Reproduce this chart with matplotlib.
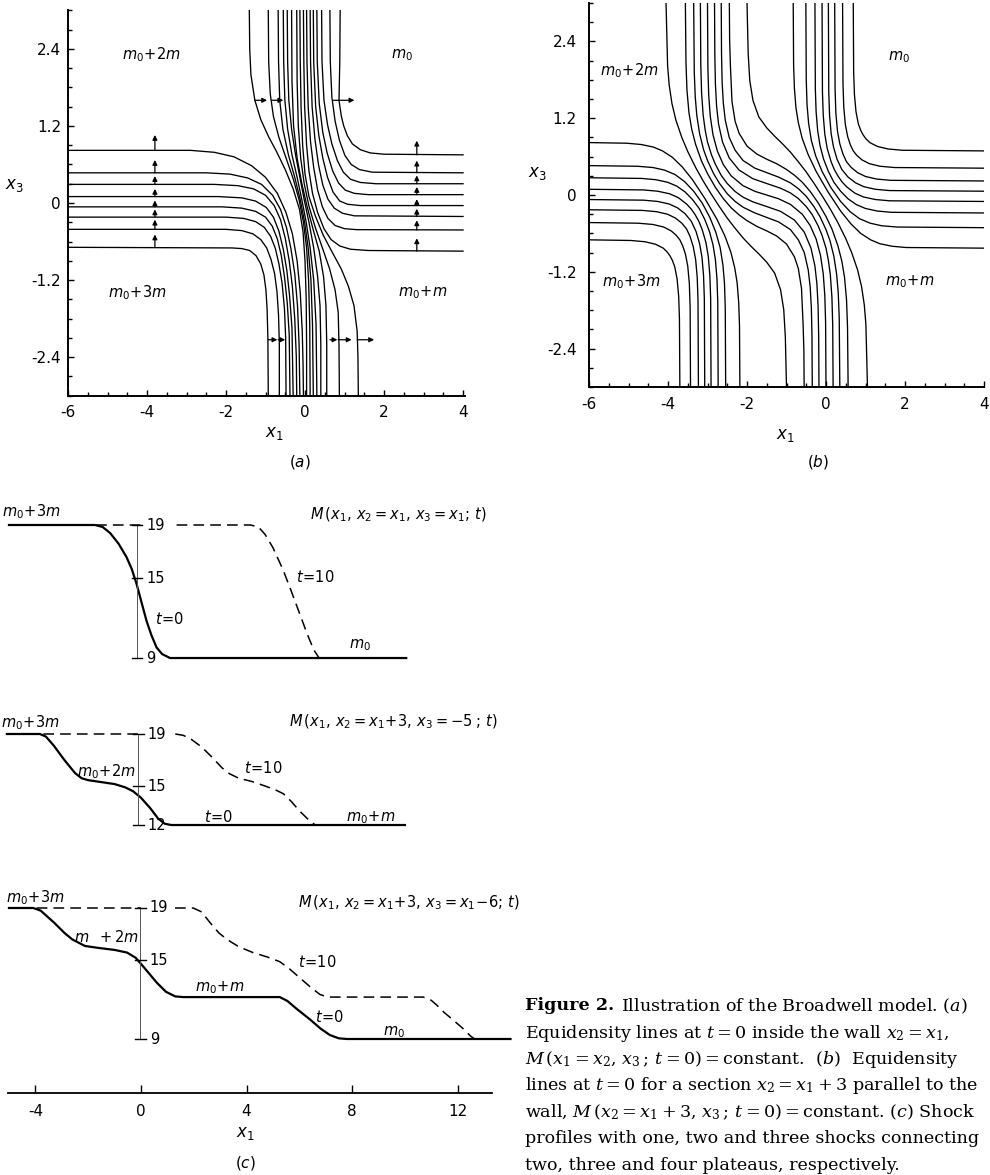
import matplotlib
matplotlib.use("Agg")
import matplotlib.pyplot as plt
from matplotlib.ticker import MultipleLocator

plt.rcParams["font.family"] = ["DejaVu Sans"]
plt.rcParams["axes.unicode_minus"] = False
plt.rcParams["mathtext.fontset"] = "dejavusans"

# ---------------- panel (a): equidensity lines inside the wall ----------------
# lines coming down from the top edge and turning to the right edge
a_upper_right = [
    [(0.89, 3.0), (0.88, 2.2), (0.86, 1.6), (0.92, 1.35), (0.98, 1.20), (1.07, 1.05), (1.20, 0.92), (1.40, 0.83), (1.65, 0.78), (2.0, 0.76), (4.0, 0.75)],
    [(0.63, 3.0), (0.64, 2.2), (0.68, 1.65), (0.76, 1.28), (0.87, 0.98), (1.01, 0.74), (1.17, 0.60), (1.38, 0.52), (1.7, 0.48), (4.0, 0.47)],
    [(0.42, 3.0), (0.43, 2.2), (0.48, 1.6), (0.57, 1.22), (0.68, 0.92), (0.82, 0.66), (0.97, 0.48), (1.15, 0.37), (1.4, 0.32), (1.8, 0.30), (4.0, 0.30)],
    [(0.30, 3.0), (0.31, 2.2), (0.36, 1.55), (0.45, 1.10), (0.56, 0.78), (0.70, 0.50), (0.85, 0.31), (1.02, 0.20), (1.25, 0.15), (1.6, 0.13), (4.0, 0.13)],
    [(0.21, 3.0), (0.22, 2.2), (0.27, 1.5), (0.35, 1.05), (0.45, 0.70), (0.57, 0.40), (0.71, 0.17), (0.88, 0.03), (1.08, -0.02), (1.4, -0.04), (4.0, -0.04)],
    [(0.13, 3.0), (0.14, 2.2), (0.18, 1.5), (0.25, 1.0), (0.34, 0.60), (0.45, 0.28), (0.58, 0.06), (0.74, -0.08), (0.95, -0.16), (1.25, -0.20), (4.0, -0.21)],
    [(0.04, 3.0), (0.05, 2.2), (0.08, 1.5), (0.14, 0.95), (0.22, 0.55), (0.32, 0.20), (0.44, -0.06), (0.58, -0.24), (0.76, -0.35), (1.0, -0.40), (1.3, -0.415), (4.0, -0.42)],
    [(-0.04, 3.0), (-0.03, 2.2), (-0.01, 1.5), (0.04, 0.9), (0.10, 0.50), (0.19, 0.15), (0.32, -0.15), (0.48, -0.40), (0.66, -0.57), (0.88, -0.67), (1.15, -0.72), (1.6, -0.74), (4.0, -0.75)],
]
# lines coming in from the left edge and turning down to the bottom edge
a_lower_left = [
    [(-6.0, -0.69), (-1.85, -0.70), (-1.6, -0.71), (-1.40, -0.74), (-1.24, -0.82), (-1.12, -0.95), (-1.04, -1.12), (-0.99, -1.35), (-0.96, -1.65), (-0.94, -2.1), (-0.93, -3.0)],
    [(-6.0, -0.41), (-2.0, -0.41), (-1.6, -0.43), (-1.32, -0.48), (-1.12, -0.57), (-0.97, -0.70), (-0.86, -0.88), (-0.77, -1.10), (-0.71, -1.38), (-0.67, -1.75), (-0.65, -2.2), (-0.65, -3.0)],
    [(-6.0, -0.22), (-2.0, -0.22), (-1.55, -0.24), (-1.25, -0.29), (-1.03, -0.38), (-0.87, -0.52), (-0.75, -0.71), (-0.66, -0.95), (-0.58, -1.25), (-0.52, -1.65), (-0.49, -2.1), (-0.48, -3.0)],
    [(-6.0, -0.06), (-2.1, -0.06), (-1.6, -0.08), (-1.25, -0.13), (-1.0, -0.22), (-0.83, -0.36), (-0.70, -0.56), (-0.60, -0.82), (-0.52, -1.15), (-0.45, -1.55), (-0.40, -2.05), (-0.38, -3.0)],
    [(-6.0, 0.10), (-2.2, 0.10), (-1.6, 0.08), (-1.25, 0.03), (-0.98, -0.07), (-0.80, -0.22), (-0.66, -0.44), (-0.55, -0.72), (-0.46, -1.05), (-0.39, -1.45), (-0.33, -1.95), (-0.30, -3.0)],
    [(-6.0, 0.29), (-2.3, 0.29), (-1.7, 0.27), (-1.3, 0.22), (-1.0, 0.12), (-0.78, -0.04), (-0.62, -0.26), (-0.50, -0.55), (-0.40, -0.90), (-0.32, -1.3), (-0.26, -1.8), (-0.22, -2.4), (-0.21, -3.0)],
    [(-6.0, 0.47), (-2.5, 0.47), (-1.9, 0.45), (-1.45, 0.39), (-1.1, 0.29), (-0.82, 0.12), (-0.62, -0.10), (-0.47, -0.38), (-0.36, -0.70), (-0.26, -1.1), (-0.19, -1.6), (-0.15, -2.2), (-0.13, -3.0)],
    [(-6.0, 0.82), (-2.9, 0.82), (-2.3, 0.79), (-1.8, 0.72), (-1.35, 0.58), (-1.0, 0.40), (-0.70, 0.15), (-0.48, -0.15), (-0.32, -0.48), (-0.20, -0.90), (-0.12, -1.4), (-0.07, -2.0), (-0.05, -2.5), (-0.04, -3.0)],
]
# lines running from the top edge to the bottom edge through the crossing
a_through = [
    [(-1.41, 3.0), (-1.40, 2.4), (-1.37, 2.0), (-1.27, 1.60), (-1.12, 1.30), (-0.92, 1.03), (-0.72, 0.80), (-0.50, 0.52), (-0.30, 0.22), (-0.14, -0.10), (-0.05, -0.45), (0.0, -0.9), (0.03, -1.5), (0.04, -2.2), (0.04, -3.0)],
    [(-0.93, 3.0), (-0.92, 2.2), (-0.88, 1.7), (-0.80, 1.35), (-0.66, 1.02), (-0.48, 0.70), (-0.30, 0.38), (-0.15, 0.05), (-0.04, -0.30), (0.04, -0.70), (0.09, -1.2), (0.12, -1.9), (0.13, -3.0)],
    [(-0.68, 3.0), (-0.67, 2.2), (-0.64, 1.6), (-0.56, 1.15), (-0.42, 0.75), (-0.26, 0.40), (-0.12, 0.05), (-0.01, -0.30), (0.08, -0.70), (0.15, -1.2), (0.19, -1.9), (0.21, -3.0)],
    [(-0.55, 3.0), (-0.54, 2.2), (-0.51, 1.6), (-0.44, 1.15), (-0.33, 0.75), (-0.20, 0.40), (-0.08, 0.05), (0.03, -0.30), (0.13, -0.70), (0.22, -1.2), (0.28, -1.9), (0.30, -3.0)],
    [(-0.45, 3.0), (-0.44, 2.2), (-0.41, 1.6), (-0.34, 1.15), (-0.24, 0.75), (-0.13, 0.40), (-0.02, 0.05), (0.10, -0.30), (0.22, -0.70), (0.32, -1.15), (0.38, -1.6), (0.40, -2.2), (0.40, -3.0)],
    [(-0.34, 3.0), (-0.33, 1.9), (-0.29, 1.2), (-0.20, 0.70), (-0.08, 0.30), (0.05, -0.05), (0.20, -0.40), (0.36, -0.75), (0.47, -1.15), (0.53, -1.6), (0.55, -2.2), (0.55, -3.0)],
    [(-0.21, 3.0), (-0.20, 1.9), (-0.17, 1.2), (-0.11, 0.70), (-0.02, 0.30), (0.10, -0.05), (0.26, -0.38), (0.44, -0.70), (0.62, -1.02), (0.76, -1.35), (0.84, -1.7), (0.86, -2.2), (0.87, -3.0)],
    [(-0.13, 3.0), (-0.12, 2.2), (-0.10, 1.5), (-0.06, 0.9), (0.0, 0.45), (0.10, 0.10), (0.26, -0.20), (0.46, -0.50), (0.70, -0.78), (0.92, -1.03), (1.10, -1.30), (1.24, -1.60), (1.32, -2.0), (1.34, -2.4), (1.35, -3.0)],
]
# shock-motion arrows in (a): (x_start, y_start, x_end, y_end)
a_arrows = [
    (-3.80, 0.82, -3.80, 1.06), (-3.80, 0.47, -3.80, 0.67), (-3.80, 0.29, -3.80, 0.42), (-3.80, 0.10, -3.80, 0.22),
    (-3.80, -0.06, -3.80, 0.04), (-3.80, -0.22, -3.80, -0.10), (-3.80, -0.41, -3.80, -0.26), (-3.80, -0.69, -3.80, -0.49),
    (2.83, 0.75, 2.83, 0.97), (2.83, 0.47, 2.83, 0.66), (2.83, 0.30, 2.83, 0.43), (2.83, 0.13, 2.83, 0.25),
    (2.83, -0.04, 2.83, 0.06), (2.83, -0.21, 2.83, -0.09), (2.83, -0.42, 2.83, -0.27), (2.83, -0.75, 2.83, -0.55),
    (-1.27, 1.6, -0.96, 1.6), (-0.84, 1.6, -0.55, 1.6), (0.72, 1.6, 1.25, 1.6),
    (-0.93, -2.13, -0.70, -2.13), (-0.68, -2.13, -0.50, -2.13), (0.63, -2.13, 0.82, -2.13),
    (0.84, -2.13, 1.18, -2.13), (1.32, -2.13, 1.75, -2.13),
]

# ---------------- panel (b): section x2 = x1 + 3 ----------------
b_upper_right = [
    [(0.69, 3.0), (0.70, 1.93), (0.72, 1.57), (0.76, 1.30), (0.82, 1.11), (0.88, 1.01), (0.94, 0.94), (1.01, 0.88), (1.11, 0.82), (1.30, 0.76), (1.57, 0.72), (1.93, 0.70), (4.0, 0.69)],
    [(0.42, 3.0), (0.43, 1.74), (0.45, 1.37), (0.49, 1.10), (0.55, 0.91), (0.62, 0.78), (0.69, 0.69), (0.78, 0.62), (0.91, 0.55), (1.10, 0.49), (1.37, 0.45), (1.74, 0.43), (4.0, 0.42)],
    [(0.22, 3.0), (0.23, 1.64), (0.25, 1.28), (0.29, 1.00), (0.35, 0.80), (0.43, 0.64), (0.52, 0.52), (0.64, 0.43), (0.80, 0.35), (1.00, 0.29), (1.28, 0.25), (1.64, 0.23), (4.0, 0.22)],
    [(0.06, 3.0), (0.07, 1.61), (0.09, 1.25), (0.13, 0.96), (0.19, 0.75), (0.28, 0.56), (0.40, 0.40), (0.56, 0.28), (0.75, 0.19), (0.96, 0.13), (1.25, 0.09), (1.61, 0.07), (4.0, 0.06)],
    [(-0.10, 3.0), (-0.09, 1.61), (-0.07, 1.25), (-0.03, 0.95), (0.03, 0.73), (0.13, 0.52), (0.21, 0.40), (0.30, 0.30), (0.40, 0.21), (0.52, 0.13), (0.73, 0.03), (0.95, -0.03), (1.25, -0.07), (1.61, -0.09), (4.0, -0.10)],
    [(-0.28, 3.0), (-0.27, 1.66), (-0.25, 1.30), (-0.21, 1.00), (-0.15, 0.77), (-0.06, 0.56), (0.06, 0.37), (0.20, 0.20), (0.37, 0.06), (0.56, -0.06), (0.77, -0.15), (1.00, -0.21), (1.30, -0.25), (1.66, -0.27), (4.0, -0.28)],
    [(-0.51, 3.0), (-0.50, 1.80), (-0.48, 1.41), (-0.44, 1.12), (-0.37, 0.85), (-0.26, 0.61), (-0.10, 0.37), (0.12, 0.12), (0.37, -0.10), (0.61, -0.26), (0.85, -0.37), (1.12, -0.44), (1.41, -0.48), (1.80, -0.50), (4.0, -0.51)],
    [(-0.83, 3.0), (-0.82, 2.03), (-0.80, 1.67), (-0.76, 1.36), (-0.70, 1.13), (-0.60, 0.88), (-0.45, 0.63), (-0.25, 0.37), (0.05, 0.05), (0.37, -0.25), (0.63, -0.45), (0.88, -0.60), (1.13, -0.70), (1.36, -0.76), (1.67, -0.80), (2.03, -0.82), (4.0, -0.83)],
]
b_lower_left = [
    [(-2.18, -3.0), (-2.19, -2.04), (-2.21, -1.68), (-2.25, -1.37), (-2.31, -1.14), (-2.41, -0.89), (-2.56, -0.64), (-2.76, -0.38), (-3.06, -0.06), (-3.38, 0.24), (-3.64, 0.44), (-3.89, 0.59), (-4.14, 0.69), (-4.37, 0.75), (-4.68, 0.79), (-5.04, 0.81), (-6.0, 0.82)],
    [(-2.54, -3.0), (-2.55, -1.77), (-2.57, -1.38), (-2.61, -1.09), (-2.68, -0.82), (-2.79, -0.58), (-2.94, -0.35), (-3.13, -0.13), (-3.35, 0.06), (-3.58, 0.21), (-3.82, 0.32), (-4.09, 0.39), (-4.38, 0.43), (-4.77, 0.45), (-6.0, 0.46)],
    [(-2.73, -3.0), (-2.74, -1.67), (-2.76, -1.31), (-2.80, -1.01), (-2.86, -0.78), (-2.95, -0.57), (-3.07, -0.38), (-3.21, -0.21), (-3.38, -0.07), (-3.57, 0.05), (-3.78, 0.14), (-4.01, 0.20), (-4.31, 0.24), (-4.67, 0.26), (-6.0, 0.27)],
    [(-2.91, -3.0), (-2.92, -1.62), (-2.94, -1.26), (-2.98, -0.96), (-3.04, -0.74), (-3.14, -0.53), (-3.22, -0.41), (-3.31, -0.31), (-3.41, -0.22), (-3.53, -0.14), (-3.74, -0.04), (-3.96, 0.02), (-4.26, 0.06), (-4.62, 0.08), (-6.0, 0.09)],
    [(-3.07, -3.0), (-3.08, -1.62), (-3.10, -1.26), (-3.14, -0.97), (-3.20, -0.76), (-3.29, -0.57), (-3.41, -0.41), (-3.57, -0.29), (-3.76, -0.20), (-3.97, -0.14), (-4.26, -0.10), (-4.62, -0.08), (-6.0, -0.07)],
    [(-3.23, -3.0), (-3.24, -1.65), (-3.26, -1.29), (-3.30, -1.01), (-3.36, -0.81), (-3.44, -0.65), (-3.53, -0.53), (-3.65, -0.44), (-3.81, -0.36), (-4.01, -0.30), (-4.29, -0.26), (-4.65, -0.24), (-6.0, -0.23)],
    [(-3.43, -3.0), (-3.44, -1.75), (-3.46, -1.38), (-3.50, -1.11), (-3.56, -0.92), (-3.63, -0.79), (-3.70, -0.70), (-3.79, -0.63), (-3.92, -0.56), (-4.11, -0.50), (-4.38, -0.46), (-4.75, -0.44), (-6.0, -0.43)],
    [(-3.70, -3.0), (-3.71, -1.94), (-3.73, -1.58), (-3.77, -1.31), (-3.83, -1.12), (-3.89, -1.02), (-3.95, -0.95), (-4.02, -0.89), (-4.12, -0.83), (-4.31, -0.77), (-4.58, -0.73), (-4.94, -0.71), (-6.0, -0.70)],
]
# lines from the top of the left bundle, across the middle, to the bottom of the right bundle
b_through = [
    [(-4.05, 3.0), (-4.01, 2.02), (-3.97, 1.72), (-3.9, 1.43), (-3.8, 1.17), (-3.65, 0.90), (-3.5, 0.68), (-3.3, 0.43), (-3.1, 0.21), (-2.9, 0.01), (-2.7, -0.18), (-2.5, -0.36), (-2.3, -0.52), (-2.1, -0.67), (-1.9, -0.80), (-1.7, -0.92), (-1.5, -1.05), (-1.3, -1.22), (-1.15, -1.48), (-1.07, -1.79), (-1.03, -2.21), (-1.0, -3.0)],
    [(-3.56, 3.0), (-3.545, 2.07), (-3.52, 1.64), (-3.47, 1.29), (-3.40, 1.03), (-3.30, 0.79), (-3.15, 0.53), (-3.00, 0.335), (-2.80, 0.12), (-2.60, -0.056), (-2.40, -0.20), (-2.20, -0.31), (-2.00, -0.40), (-1.75, -0.49), (-1.50, -0.56), (-1.25, -0.64), (-1.00, -0.765), (-0.80, -0.965), (-0.70, -1.15), (-0.62, -1.46), (-0.58, -2.02), (-0.56, -2.43), (-0.553, -3.0)],
    [(-3.35, 3.0), (-3.335, 1.92), (-3.31, 1.53), (-3.27, 1.24), (-3.20, 0.96), (-3.10, 0.71), (-3.00, 0.54), (-2.85, 0.34), (-2.70, 0.185), (-2.50, 0.02), (-2.30, -0.10), (-2.10, -0.19), (-1.80, -0.28), (-1.50, -0.35), (-1.20, -0.42), (-0.90, -0.54), (-0.70, -0.70), (-0.55, -0.90), (-0.45, -1.17), (-0.40, -1.44), (-0.37, -1.77), (-0.355, -2.22), (-0.3475, -3.0)],
    [(-3.18, 3.0), (-3.17, 2.04), (-3.15, 1.60), (-3.11, 1.25), (-3.06, 1.02), (-3.00, 0.83), (-2.90, 0.63), (-2.80, 0.48), (-2.65, 0.305), (-2.50, 0.18), (-2.30, 0.055), (-2.10, -0.033), (-1.85, -0.107), (-1.50, -0.18), (-1.15, -0.255), (-0.80, -0.39), (-0.55, -0.58), (-0.38, -0.83), (-0.28, -1.11), (-0.23, -1.39), (-0.20, -1.74), (-0.185, -2.22), (-0.178, -3.0)],
    [(-3.0, 3.0), (-2.99, 1.99), (-2.97, 1.57), (-2.93, 1.23), (-2.86, 0.94), (-2.75, 0.687), (-2.60, 0.477), (-2.40, 0.30), (-2.10, 0.146), (-1.80, 0.058), (-1.50, 0.0), (-1.20, -0.058), (-0.90, -0.146), (-0.60, -0.30), (-0.40, -0.477), (-0.25, -0.687), (-0.14, -0.94), (-0.07, -1.23), (-0.03, -1.57), (-0.01, -1.99), (0.0, -3.0)],
    [(-2.822, 3.0), (-2.815, 2.22), (-2.80, 1.74), (-2.77, 1.39), (-2.72, 1.11), (-2.62, 0.83), (-2.45, 0.58), (-2.20, 0.39), (-1.85, 0.255), (-1.50, 0.18), (-1.15, 0.107), (-0.90, 0.033), (-0.70, -0.055), (-0.50, -0.18), (-0.35, -0.305), (-0.20, -0.48), (-0.10, -0.63), (0.00, -0.83), (0.06, -1.02), (0.11, -1.25), (0.15, -1.60), (0.17, -2.04), (0.18, -3.0)],
    [(-2.6525, 3.0), (-2.645, 2.22), (-2.63, 1.77), (-2.60, 1.44), (-2.55, 1.17), (-2.45, 0.90), (-2.30, 0.70), (-2.10, 0.54), (-1.80, 0.42), (-1.50, 0.35), (-1.20, 0.28), (-0.90, 0.19), (-0.70, 0.10), (-0.50, -0.02), (-0.30, -0.185), (-0.15, -0.34), (0.00, -0.54), (0.10, -0.71), (0.20, -0.96), (0.27, -1.24), (0.31, -1.53), (0.335, -1.92), (0.35, -3.0)],
    [(-2.447, 3.0), (-2.44, 2.43), (-2.42, 2.02), (-2.38, 1.46), (-2.30, 1.15), (-2.20, 0.965), (-2.00, 0.765), (-1.75, 0.64), (-1.50, 0.56), (-1.25, 0.49), (-1.00, 0.40), (-0.80, 0.31), (-0.60, 0.20), (-0.40, 0.056), (-0.20, -0.12), (0.00, -0.335), (0.15, -0.53), (0.30, -0.79), (0.40, -1.03), (0.47, -1.29), (0.52, -1.64), (0.545, -2.07), (0.56, -3.0)],
    [(-2.0, 3.0), (-1.97, 2.21), (-1.93, 1.79), (-1.85, 1.48), (-1.7, 1.22), (-1.5, 1.05), (-1.3, 0.92), (-1.1, 0.80), (-0.9, 0.67), (-0.7, 0.52), (-0.5, 0.36), (-0.3, 0.18), (-0.1, -0.01), (0.1, -0.21), (0.3, -0.43), (0.5, -0.68), (0.65, -0.90), (0.8, -1.17), (0.9, -1.43), (0.97, -1.72), (1.01, -2.02), (1.05, -3.0)],
]

field_xticks = [-6, -4, -2, 0, 2, 4]
field_xlabels = ["-6", "-4", "-2", "0", "2", "4"]
field_yticks = [2.4, 1.2, 0, -1.2, -2.4]
field_ylabels = ["2.4", "1.2", "0", "-1.2", "-2.4"]
region_labels = [r"$m_0\!+\!2m$", r"$m_0$", r"$m_0\!+\!3m$", r"$m_0\!+\!m$"]
a_region_xy = [(-3.88, 2.31), (2.45, 2.31), (-4.25, -1.40), (2.98, -1.39)]
b_region_xy = [(-4.97, 1.95), (1.84, 2.16), (-4.93, -1.36), (2.13, -1.36)]

# ---------------- panel (c): shock profiles ----------------
c1_solid_x = [-5.0, -1.74, -1.45, -1.17, -0.85, -0.55, -0.35, -0.17, 0.02, 0.21, 0.40, 0.59, 0.80, 1.1, 10.05]
c1_solid_y = [19, 19, 18.85, 18.4, 17.6, 16.6, 15.7, 14.6, 13.2, 11.8, 10.7, 9.8, 9.3, 9.0, 9.0]
c1_dash_x = [-1.7, 0.0, None, 1.35, 4.15, 4.45, 4.7, 5.0, 5.39, 5.7, 6.0, 6.3, 6.55, 6.75]
c1_dash_y = [19, 19, None, 19, 19, 18.85, 18.3, 17.3, 15.6, 14.0, 12.4, 10.8, 9.6, 9.0]

c2_solid_x = [-5.08, -3.83, -3.6, -3.3, -2.9, -2.5, -2.25, -2.0, -1.5, -1.0, -0.6, -0.3, 0.0, 0.35, 0.65, 0.9, 1.15, 10.0]
c2_solid_y = [19, 19, 18.8, 18.1, 17.0, 16.0, 15.6, 15.45, 15.3, 15.15, 14.9, 14.6, 14.1, 13.3, 12.5, 12.1, 12.0, 12.0]
c2_dash_x = [-3.7, 0.0, None, 1.3, 1.6, 1.9, 2.3, 2.7, 3.07, 3.35, 3.7, 4.2, 4.7, 5.1, 5.4, 5.7, 6.0, 6.3, 6.6]
c2_dash_y = [19, 19, None, 19, 18.9, 18.6, 18.0, 17.2, 16.4, 15.95, 15.6, 15.35, 15.0, 14.7, 14.4, 13.8, 13.1, 12.5, 12.0]

c3_solid_x = [-5.0, -4.08, -3.8, -3.3, -2.9, -2.6, -2.12, -1.6, -1.0, -0.53, -0.2, 0.1, 0.6, 0.95, 1.3, 1.6, 5.26, 5.55, 5.9, 6.4, 6.8, 7.16, 7.5, 7.8, 14.0]
c3_solid_y = [19, 19, 18.8, 17.9, 17.1, 16.6, 16.1, 15.95, 15.8, 15.6, 15.2, 14.5, 13.3, 12.6, 12.25, 12.2, 12.2, 11.9, 11.3, 10.5, 9.8, 9.3, 9.05, 9.0, 9.0]
c3_dash_x = [-3.95, 0.0, None, 1.29, 1.98, 2.3, 2.61, 2.95, 3.26, 3.7, 4.24, 4.8, 5.26, 5.6, 6.0, 6.4, 6.78, 7.0, 7.2, 10.7, 11.0, 11.2, 11.5, 11.8, 12.2, 12.5, 12.65]
c3_dash_y = [19, 19, None, 19, 19, 18.7, 17.9, 17.1, 16.6, 16.05, 15.6, 15.25, 14.9, 14.4, 13.7, 13.0, 12.4, 12.25, 12.2, 12.2, 11.95, 11.6, 11.0, 10.5, 9.8, 9.2, 9.0]

c_scale_ticks = [[19, 15, 9], [19, 15, 12], [19, 15, 9]]
c_scale_x = [-0.15, -0.1, -0.02]
c_axis_ticks = [-4, 0, 4, 8, 12]

c1_texts = [(r"$m_0\!+\!3m$", -5.25, 20.0, "left"), (r"$M\,(x_1,\, x_2 = x_1,\, x_3 = x_1;\, t)$", 6.4, 19.8, "left"),
            (r"$t\!=\!10$", 6.6, 15.1, "center"), (r"$t\!=\!0$", 1.1, 11.9, "center"), (r"$m_0$", 8.3, 9.95, "center")]
c2_texts = [(r"$m_0\!+\!3m$", -5.3, 19.9, "left"), (r"$M\,(x_1,\, x_2 = x_1\!+\!3,\, x_3 = -5\;;\, t)$", 5.6, 19.9, "left"),
            (r"$m_0\!+\!2m$", -1.3, 16.1, "center"), (r"$t\!=\!10$", 4.65, 16.4, "center"),
            (r"$t\!=\!0$", 2.95, 12.6, "center"), (r"$m_0\!+\!m$", 8.7, 12.6, "center")]
c3_texts = [(r"$m_0\!+\!3m$", -5.1, 19.8, "left"), (r"$M\,(x_1,\, x_2 = x_1\!+\!3,\, x_3 = x_1\!-\!6;\, t)$", 5.95, 19.4, "left"),
            (r"$m\;\;+2m$", -1.3, 16.8, "center"), (r"$t\!=\!10$", 6.7, 14.9, "center"),
            (r"$m_0\!+\!m$", 3.0, 12.9, "center"), (r"$t\!=\!0$", 7.15, 10.7, "center"), (r"$m_0$", 9.6, 9.5, "center")]

caption_lines = [
    "Illustration of the Broadwell model. ($a$)",
    r"Equidensity lines at $t=0$ inside the wall $x_2=x_1,$",
    r"$M\,(x_1=x_2,\,x_3\,;\,t=0)=$constant.  ($b$)  Equidensity",
    r"lines at $t=0$ for a section $x_2=x_1+3$ parallel to the",
    r"wall, $M\,(x_2=x_1+3,\,x_3\,;\,t=0)=$constant. ($c$) Shock",
    "profiles with one, two and three shocks connecting",
    "two, three and four plateaus, respectively.",
]

W, H = 990.0, 1175.0
fig = plt.figure(figsize=(9.9, 11.75), dpi=100)


def add_axes_px(left, top, right, bottom):
    return fig.add_axes([left / W, 1 - bottom / H, (right - left) / W, (bottom - top) / H])


def style_field(ax, xmax, label_pad):
    ax.set_xlim(-6, xmax)
    ax.set_ylim(-3, 3)
    ax.spines["top"].set_visible(False)
    ax.spines["right"].set_visible(False)
    ax.spines["left"].set_linewidth(1.4)
    ax.spines["bottom"].set_linewidth(1.4)
    ax.set_xticks(field_xticks)
    ax.set_xticklabels(field_xlabels)
    ax.set_yticks(field_yticks)
    ax.set_yticklabels(field_ylabels)
    ax.xaxis.set_minor_locator(MultipleLocator(0.5))
    ax.yaxis.set_minor_locator(MultipleLocator(0.3))
    ax.tick_params(which="both", direction="in", width=1.0, labelsize=11)
    ax.tick_params(which="major", length=4)
    ax.tick_params(which="minor", length=3)
    ax.tick_params(axis="x", pad=7)
    ax.tick_params(axis="y", pad=label_pad)


def draw_curves(ax, curves):
    for curve in curves:
        xs, ys = zip(*curve)
        ax.plot(xs, ys, color="black", lw=0.95)


# panel (a)
ax_a = add_axes_px(68, 10.4, 465, 395.6)
style_field(ax_a, 4.05, 5)
for fam in (a_upper_right, a_lower_left, a_through):
    draw_curves(ax_a, fam)
for x0, y0, x1, y1 in a_arrows:
    ax_a.annotate("", xy=(x1, y1), xytext=(x0, y0),
                  arrowprops=dict(arrowstyle="-|>", color="black", lw=0.9,
                                  mutation_scale=7, shrinkA=0, shrinkB=0))
for lab, (x, y) in zip(region_labels, a_region_xy):
    ax_a.text(x, y, lab, ha="center", va="center", fontsize=10.5)
ax_a.text(-0.135, 0.547, r"$x_3$", transform=ax_a.transAxes, ha="center", va="center", fontsize=12)
ax_a.text(0.52, -0.097, r"$x_1$", transform=ax_a.transAxes, ha="center", va="center", fontsize=12)
ax_a.text(0.585, -0.172, r"($a$)", transform=ax_a.transAxes, ha="center", va="center", fontsize=11)

# panel (b)
ax_b = add_axes_px(589, 3.1, 984, 387)
style_field(ax_b, 4.0, 9)
for fam in (b_upper_right, b_lower_left, b_through):
    draw_curves(ax_b, fam)
for lab, (x, y) in zip(region_labels, b_region_xy):
    ax_b.text(x, y, lab, ha="center", va="center", fontsize=10.5)
ax_b.text(-0.131, 0.557, r"$x_3$", transform=ax_b.transAxes, ha="center", va="center", fontsize=12)
ax_b.text(0.497, -0.125, r"$x_1$", transform=ax_b.transAxes, ha="center", va="center", fontsize=12)
ax_b.text(0.58, -0.195, r"($b$)", transform=ax_b.transAxes, ha="center", va="center", fontsize=11)

# panel (c)
c_xlim = (-5.34, 14.36)
profile_boxes = [(500, 670, (8.10, 20.88)), (700, 860, (9.31, 21.615)), (880, 1060, (7.397, 21.137))]
profiles = [(c1_solid_x, c1_solid_y, c1_dash_x, c1_dash_y, c1_texts),
            (c2_solid_x, c2_solid_y, c2_dash_x, c2_dash_y, c2_texts),
            (c3_solid_x, c3_solid_y, c3_dash_x, c3_dash_y, c3_texts)]
for (top, bottom, ylim), (sx, sy, dx, dy, texts), ticks, bx in zip(profile_boxes, profiles, c_scale_ticks, c_scale_x):
    ax = add_axes_px(0, top, 520, bottom)
    ax.set_xlim(*c_xlim)
    ax.set_ylim(*ylim)
    ax.set_axis_off()
    dxf = [float("nan") if v is None else v for v in dx]
    dyf = [float("nan") if v is None else v for v in dy]
    ax.plot(sx, sy, color="black", lw=1.6, solid_joinstyle="round")
    ax.plot(dxf, dyf, color="black", lw=1.1, dashes=(7, 4))
    ax.plot([bx, bx], [ticks[0], ticks[-1]], color="#555555", lw=0.7)
    for v in ticks:
        ax.plot([bx - 0.2, bx + 0.2], [v, v], color="black", lw=1.0)
        ax.text(bx + 0.35, v, str(v), ha="left", va="center", fontsize=10.5)
    for s, x, y, ha in texts:
        ax.text(x, y, s, ha=ha, va="center", fontsize=10.5)

ax_cx = add_axes_px(0, 1070, 520, 1093)
ax_cx.set_xlim(*c_xlim)
ax_cx.set_ylim(0, 1)
for s in ("top", "right", "left"):
    ax_cx.spines[s].set_visible(False)
ax_cx.spines["bottom"].set_bounds(-5.03, 13.3)
ax_cx.spines["bottom"].set_linewidth(1.3)
ax_cx.set_yticks([])
ax_cx.set_xticks(c_axis_ticks)
ax_cx.set_xticklabels([str(v) for v in c_axis_ticks])
ax_cx.tick_params(axis="x", direction="in", length=6, width=1.0, labelsize=11, pad=8)
ax_cx.patch.set_visible(False)
fig.text(245 / W, 1 - 1133 / H, r"$x_1$", ha="center", va="center", fontsize=12)
fig.text(245 / W, 1 - 1163 / H, r"($c$)", ha="center", va="center", fontsize=11)

# caption
cap_kw = dict(ha="left", va="center", fontsize=12.6, family="DejaVu Serif", math_fontfamily="dejavuserif")
fig.text(525 / W, 1 - 1006 / H, "Figure 2.", fontweight="bold", **cap_kw)
fig.text(621 / W, 1 - 1006 / H, caption_lines[0], **cap_kw)
for i, line in enumerate(caption_lines[1:]):
    fig.text(525 / W, 1 - (1033 + 26.4 * i) / H, line, **cap_kw)

fig.savefig("out.png", dpi=100)
